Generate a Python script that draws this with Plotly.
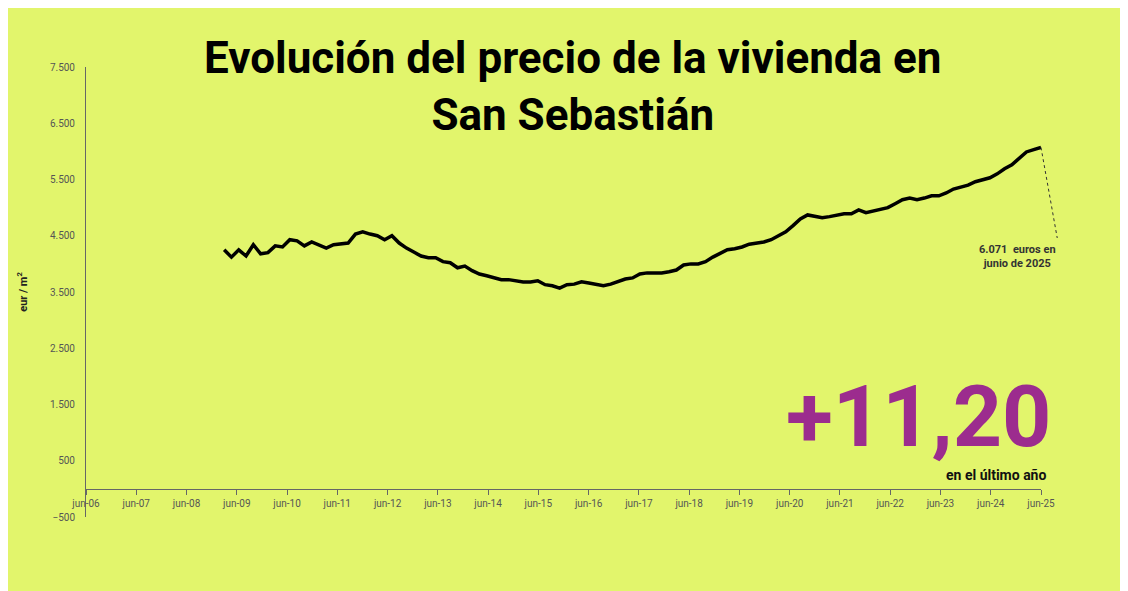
import pandas as pd
import plotly.graph_objects as go

precio = [4250, 4120, 4250, 4140, 4340, 4180, 4200, 4320, 4300, 4430, 4410, 4320, 4390,
          4340, 4280, 4340, 4350, 4370, 4530, 4570, 4530, 4500, 4430, 4500, 4370, 4280,
          4210, 4140, 4110, 4110, 4040, 4020, 3930, 3960, 3880, 3820, 3790, 3750, 3720,
          3720, 3700, 3680, 3680, 3700, 3630, 3610, 3570, 3630, 3640, 3680, 3660, 3630,
          3610, 3640, 3680, 3730, 3750, 3820, 3840, 3840, 3840, 3860, 3890, 3980, 4000,
          4000, 4040, 4120, 4180, 4250, 4270, 4300, 4350, 4370, 4390, 4430, 4500, 4570,
          4680, 4800, 4870, 4850, 4820, 4840, 4870, 4890, 4890, 4960, 4910, 4940, 4960,
          5000, 5070, 5140, 5170, 5140, 5170, 5210, 5210, 5260, 5330, 5360, 5400, 5460,
          5490, 5530, 5600, 5690, 5760, 5880, 5990, 6030, 6071]
fechas = pd.date_range('2009-03-01', '2025-06-01', periods=len(precio))

years = list(range(2006, 2026))
tick_vals = [f'{y}-06-01' for y in years]
tick_text = [f'jun-{y % 100:02d}' for y in years]

bg = '#e2f56c'
purple = '#9c2c8e'

fig = go.Figure()
fig.add_trace(go.Scatter(x=fechas, y=precio, mode='lines',
                         line=dict(color='black', width=3.5), hoverinfo='skip'))

# dotted leader line to the label
fig.add_shape(type='line', xref='paper', yref='y', x0=1.0, y0=precio[-1], x1=1.017, y1=4460,
              line=dict(color='#333', width=1, dash='dot'))
fig.add_annotation(x=1.018, y=0.613, xref='paper', yref='paper',
                   text='6.071  euros en<br>junio de 2025', showarrow=False, yanchor='top',
                   font=dict(family='Roboto', size=11, color='#333', weight='bold'))

fig.add_annotation(x=0.51, y=0.957, xref='paper', yref='paper',
                   text='Evolución del precio de la vivienda en<br>San Sebastián',
                   showarrow=False, yanchor='middle',
                   font=dict(family='Roboto', size=44, color='black', weight='bold'))
fig.add_annotation(x=1.0126, y=0.224, xref='paper', yref='paper', text='+11,20',
                   showarrow=False, xanchor='right', yanchor='middle',
                   font=dict(family='Roboto', size=86, color=purple, weight='bold'))
fig.add_annotation(x=1.007, y=0.093, xref='paper', yref='paper', text='en el último año',
                   showarrow=False, xanchor='right', yanchor='middle',
                   font=dict(family='Roboto', size=14, color='#111', weight='bold'))

fig.update_layout(
    width=1128, height=591, paper_bgcolor=bg, plot_bgcolor=bg,
    margin=dict(l=78, r=95, t=59, b=82), showlegend=False,
    separators=',.',
    xaxis=dict(range=['2006-06-01', '2025-06-01'], tickvals=tick_vals, ticktext=tick_text,
               showgrid=False, anchor='free', position=0.0625, showline=True,
               linecolor='#666', ticks='outside', ticklen=5, tickcolor='#666',
               tickfont=dict(family='Roboto', size=10, color='#555'), zeroline=False),
    yaxis=dict(range=[-500, 7500], tickvals=list(range(-500, 7501, 1000)),
               tickformat=',d', showgrid=False, zeroline=False, showline=True,
               linecolor='#666', ticks='', ticklabelstandoff=8,
               tickfont=dict(family='Roboto', size=10, color='#555'),
               title=dict(text='eur / m<sup>2</sup>', standoff=20,
                          font=dict(family='Roboto', size=11, color='#222', weight='bold'))),
)

fig.write_html('out.html')
